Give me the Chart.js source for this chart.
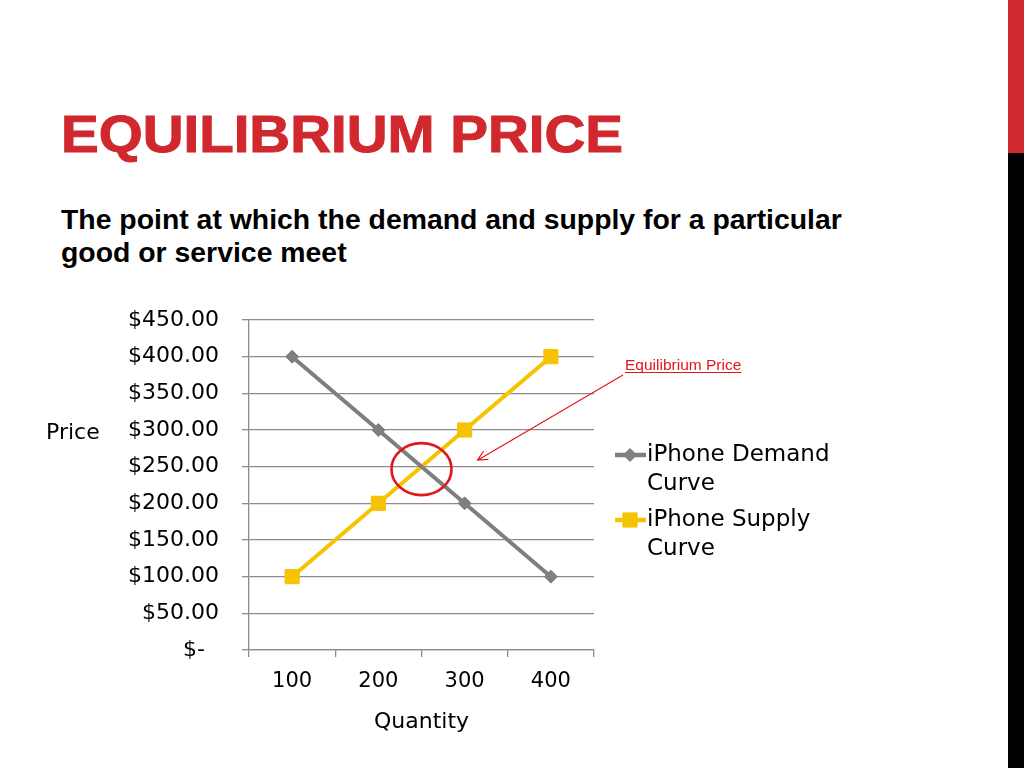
<!DOCTYPE html>
<html lang="en">
<head>
<meta charset="UTF-8">
<title>Equilibrium Price</title>
<script src="https://cdn.jsdelivr.net/npm/chart.js"></script>
<style>
  body { margin: 0; background: #fff; width: 1024px; height: 768px; overflow: hidden; position: relative;
         font-family: "Liberation Sans", Arial, sans-serif; }
  #title { position: absolute; left: 61px; top: 109px; font-size: 51px; line-height: 51px; font-weight: bold;
           color: #d0282e; white-space: nowrap; transform: scaleX(1.108); transform-origin: 0 0;
           -webkit-text-stroke: 1px #d0282e; }
  #sub { position: absolute; left: 61px; top: 203px; font-size: 28.4px; line-height: 33px; font-weight: bold;
         color: #000; white-space: nowrap; }
  #barRed { position: absolute; left: 1008px; top: 0; width: 16px; height: 153px; background: #d0282e; }
  #barBlack { position: absolute; left: 1008px; top: 153px; width: 16px; height: 615px; background: #000; }
  #wrap { position: absolute; left: 0; top: 0; width: 1008px; height: 768px; }
</style>
</head>
<body>
  <div id="title">EQUILIBRIUM PRICE</div>
  <div id="sub">The point at which the demand and supply for a particular<br>good or service meet</div>
  <div id="barRed"></div>
  <div id="barBlack"></div>
  <div id="wrap"><canvas id="chart"></canvas></div>
<script>
// data
var quantities = ['100', '200', '300', '400'];
var demandPrices = [400, 300, 200, 100];
var supplyPrices = [100, 200, 300, 400];
var priceMin = 0, priceMax = 450, priceStep = 50;
var equilibriumPrice = 250;

var gridColor = '#8c8c8c';
var grayLine = '#7f7f7f';
var yellowLine = '#f5c300';
var noteRed = '#e3161e';

Chart.defaults.font.family = '"DejaVu Sans", sans-serif';
Chart.defaults.color = '#000';

function priceLabel(v) {
    if (v === 0) return '$-  ';
    return '$' + v.toFixed(2);
}

// legend, axis caption and the red equilibrium note
var extras = {
    id: 'extras',
    afterDraw: function (chart) {
        var ctx = chart.ctx;
        var area = chart.chartArea;
        var xs = chart.scales.x, ys = chart.scales.y;
        ctx.save();

        // "Price" caption, horizontal on the left
        ctx.font = '22px "DejaVu Sans"';
        ctx.fillStyle = '#000';
        ctx.textAlign = 'left';
        ctx.textBaseline = 'alphabetic';
        ctx.fillText('Price', 46, 439);

        // legend on the right, labels wrapped
        var lx = area.right + 21;
        var ly = [455, 520];
        ctx.font = '23px "DejaVu Sans"';
        ctx.textBaseline = 'middle';
        chart.data.datasets.forEach(function (ds, i) {
            var y = ly[i];
            ctx.strokeStyle = ds.borderColor;
            ctx.lineWidth = 4.5;
            ctx.beginPath();
            ctx.moveTo(lx, y);
            ctx.lineTo(lx + 31, y);
            ctx.stroke();
            ctx.fillStyle = ds.borderColor;
            ctx.lineWidth = 1;
            Chart.helpers.drawPoint(ctx, { pointStyle: ds.pointStyle, radius: ds.pointRadius, rotation: 0, borderWidth: 1 }, lx + 15, y);
            ctx.fillStyle = '#000';
            var words = ds.label.split(' ');
            var line = '', lines = [];
            words.forEach(function (w) {
                var t = line ? line + ' ' + w : w;
                if (ctx.measureText(t).width > 195 && line) { lines.push(line); line = w; }
                else line = t;
            });
            lines.push(line);
            lines.forEach(function (t, k) { ctx.fillText(t, lx + 32, y + k * 29); });
        });

        // circle round the crossing point
        var cx = (xs.getPixelForValue(1) + xs.getPixelForValue(2)) / 2;
        var cy = ys.getPixelForValue(equilibriumPrice) + 2.5;
        ctx.strokeStyle = noteRed;
        ctx.lineWidth = 2.6;
        ctx.beginPath();
        ctx.ellipse(cx, cy, 30, 26, 0, 0, Math.PI * 2);
        ctx.stroke();

        // arrow and note
        var tipX = cx + 56, tipY = cy - 9;
        var sx = 623, sy = 375;
        ctx.lineWidth = 1.2;
        ctx.beginPath();
        ctx.moveTo(sx, sy);
        ctx.lineTo(tipX, tipY);
        var ang = Math.atan2(sy - tipY, sx - tipX);
        ctx.moveTo(tipX + 11 * Math.cos(ang - 0.45), tipY + 11 * Math.sin(ang - 0.45));
        ctx.lineTo(tipX, tipY);
        ctx.lineTo(tipX + 11 * Math.cos(ang + 0.45), tipY + 11 * Math.sin(ang + 0.45));
        ctx.stroke();

        ctx.font = '15.5px "Liberation Sans"';
        ctx.fillStyle = noteRed;
        ctx.textBaseline = 'alphabetic';
        var note = 'Equilibrium Price';
        ctx.fillText(note, 625, 370);
        var w = ctx.measureText(note).width;
        ctx.lineWidth = 1;
        ctx.beginPath();
        ctx.moveTo(625, 372.5);
        ctx.lineTo(625 + w, 372.5);
        ctx.stroke();

        ctx.restore();
    }
};

var ctx = document.getElementById('chart').getContext('2d');
var myChart = new Chart(ctx, {
    type: 'line',
    data: {
        labels: quantities,
        datasets: [{
            label: 'iPhone Demand Curve',
            data: demandPrices,
            borderColor: grayLine,
            backgroundColor: grayLine,
            borderWidth: 4,
            pointStyle: 'rectRot',
            pointRadius: 6.5,
            pointBackgroundColor: grayLine,
            pointBorderColor: grayLine,
            pointBorderWidth: 1,
            tension: 0
        }, {
            label: 'iPhone Supply Curve',
            data: supplyPrices,
            borderColor: yellowLine,
            backgroundColor: yellowLine,
            borderWidth: 4,
            pointStyle: 'rect',
            pointRadius: 10,
            pointBackgroundColor: yellowLine,
            pointBorderColor: yellowLine,
            pointBorderWidth: 1,
            tension: 0
        }]
    },
    options: {
        responsive: true,
        maintainAspectRatio: false,
        animation: false,
        layout: { padding: { left: 0, top: 320, right: 414, bottom: 28 } },
        plugins: { legend: { display: false }, tooltip: { enabled: false } },
        scales: {
            x: {
                offset: true,
                grid: { offset: true, drawOnChartArea: false, tickLength: 7, color: gridColor, lineWidth: 1.3 },
                border: { color: gridColor, width: 1.3 },
                ticks: { font: { size: 21 }, color: '#000', padding: 12, maxRotation: 0 },
                title: { display: true, text: 'Quantity', font: { size: 22 }, color: '#000', padding: { top: 4, bottom: 5 } },
                afterFit: function (s) { s.height = 90; }
            },
            y: {
                min: priceMin,
                max: priceMax,
                grid: { color: gridColor, lineWidth: 1.3, tickLength: 7 },
                border: { color: gridColor, width: 1.3 },
                ticks: { stepSize: priceStep, font: { size: 22 }, color: '#000', padding: 23, callback: priceLabel },
                afterFit: function (s) { s.width = 249; }
            }
        }
    },
    plugins: [extras]
});
</script>
</body>
</html>
